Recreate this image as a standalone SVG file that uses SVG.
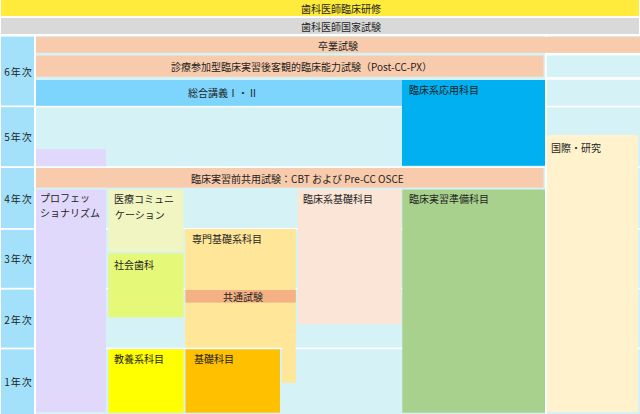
<svg xmlns="http://www.w3.org/2000/svg" width="640" height="414" viewBox="0 0 640 414">
<style>
text{font-family:"Noto Sans CJK JP","Noto Sans",sans-serif;font-size:10px;fill:#1e1e1e}
.yr{fill:#a3e1fb}
.peach{fill:#f8cbad}
.purple{fill:#e0d9fb}
.wl{fill:#ffffff}
.mid{text-anchor:middle}
</style>
<rect x="0" y="0" width="640" height="414" fill="#ffffff"/>
<g id="background">
<rect x="36" y="36" width="604" height="378" fill="#d5f2f7"/>
<rect class="wl" x="36" y="105.8" width="604" height="1.6"/>
<rect class="wl" x="36" y="166.2" width="604" height="1.6"/>
<rect class="wl" x="36" y="228" width="604" height="1.6"/>
<rect class="wl" x="36" y="287.8" width="604" height="1.6"/>
<rect class="wl" x="36" y="347.6" width="604" height="1.6"/>
<rect class="wl" x="545" y="36" width="1.8" height="378"/>
<rect class="wl" x="545" y="52.8" width="95" height="2.6"/>
<rect class="wl" x="545" y="77" width="95" height="2.8"/>
</g>
<g id="rinsho-kenshu">
<rect x="1" y="0" width="638" height="16" fill="#ffeb3b"/>
<text x="341" y="13" class="mid">歯科医師臨床研修</text>
</g>
<g id="kokka-shiken">
<rect x="1" y="18" width="638" height="16" fill="#d9d9d9"/>
<text x="341" y="31" class="mid">歯科医師国家試験</text>
</g>
<g id="years">
<rect class="yr" x="1" y="36.5" width="33" height="69"/>
<rect class="yr" x="1" y="107.2" width="33" height="59"/>
<rect class="yr" x="1" y="168" width="33" height="60"/>
<rect class="yr" x="1" y="229.8" width="33" height="58"/>
<rect class="yr" x="1" y="289.6" width="33" height="58"/>
<rect class="yr" x="1" y="349.4" width="33" height="64.6"/>
<text x="18.5" y="76" class="mid" letter-spacing="1">6年次</text>
<text x="18.5" y="141" class="mid" letter-spacing="1">5年次</text>
<text x="18.5" y="203" class="mid" letter-spacing="1">4年次</text>
<text x="18.5" y="263" class="mid" letter-spacing="1">3年次</text>
<text x="18.5" y="324" class="mid" letter-spacing="1">2年次</text>
<text x="18.5" y="386" class="mid" letter-spacing="1">1年次</text>
</g>
<g id="sotsugyo-shiken">
<rect class="peach" x="36" y="36.8" width="604" height="16"/>
<text x="318" y="49.5">卒業試験</text>
</g>
<g id="post-cc-px">
<rect class="peach" x="36" y="55.6" width="507.5" height="21.2"/>
<text x="171" y="70.5">診療参加型臨床実習後客観的臨床能力試験（Post-CC-PX）</text>
</g>
<g id="sogo-kogi">
<rect x="36" y="80" width="366" height="25.8" fill="#7dd4fc"/>
<text x="188" y="96.5">総合講義Ⅰ・Ⅱ</text>
</g>
<g id="rinsho-oyo">
<rect x="402" y="80" width="143" height="85.8" fill="#00b0f0"/>
<text x="409" y="93.5">臨床系応用科目</text>
</g>
<g id="purple-5">
<rect class="purple" x="36" y="149" width="70" height="17.2"/>
</g>
<g id="kokusai-kenkyu">
<rect x="547" y="135" width="91" height="277" fill="#fff2cc"/>
<text x="551" y="151.5">国際・研究</text>
</g>
<g id="pre-cc">
<rect class="peach" x="36" y="168" width="507.5" height="19.6"/>
<text x="191" y="182.5">臨床実習前共用試験：CBT および Pre-CC OSCE</text>
</g>
<g id="professionalism">
<rect class="purple" x="36" y="189.5" width="70" height="222.5"/>
<text x="40" y="201.5">プロフェッ</text>
<text x="40" y="216.5">ショナリズム</text>
</g>
<g id="iryo-comm">
<rect x="108.5" y="189.5" width="75" height="62" fill="#f0f5c1"/>
<text x="114" y="202.5">医療コミュニ</text>
<text x="115" y="219">ケーション</text>
</g>
<g id="shakai-shika">
<rect x="108.5" y="253.3" width="75" height="64" fill="#e6f877"/>
<text x="114" y="269">社会歯科</text>
</g>
<g id="senmon-kiso">
<path d="M185 229 H295.8 V382.8 H282 V347.6 H185 Z" fill="#ffe699"/>
<text x="192" y="243">専門基礎系科目</text>
</g>
<g id="kyotsu-shiken">
<rect x="185.5" y="290" width="110.3" height="12.6" fill="#f4b183"/>
<text x="223" y="300.5">共通試験</text>
</g>
<g id="kyoyo">
<rect x="108.5" y="349.3" width="75" height="63.4" fill="#ffff00"/>
<text x="114" y="363">教養系科目</text>
</g>
<g id="kiso">
<rect x="185.5" y="349.3" width="94.5" height="63.4" fill="#ffc000"/>
<text x="194" y="362.5">基礎科目</text>
</g>
<g id="rinsho-kiso">
<rect x="297.6" y="189.5" width="103.6" height="134.5" fill="#fbe5d6"/>
<text x="303" y="203">臨床系基礎科目</text>
</g>
<g id="rinsho-junbi">
<rect x="402.3" y="189.5" width="142.7" height="223.2" fill="#a9d18e"/>
<text x="409" y="203">臨床実習準備科目</text>
</g>
<g id="connectors"/>
</svg>
